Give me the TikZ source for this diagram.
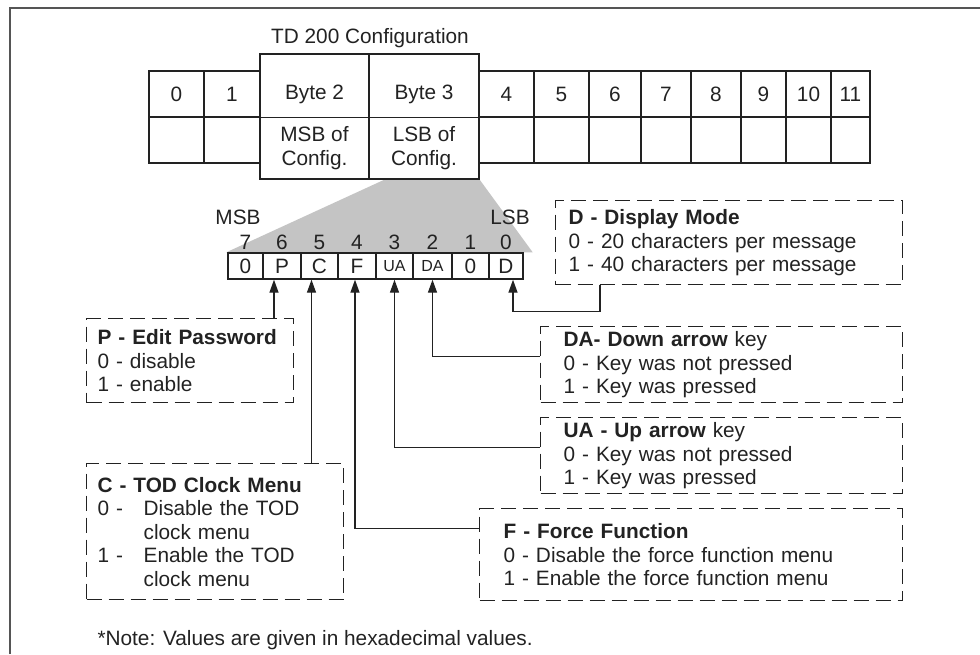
\documentclass[tikz,border=0pt]{standalone}
\usepackage{fontspec}
\setmainfont{Liberation Sans}
\usetikzlibrary{arrows.meta,backgrounds}
\definecolor{ink}{HTML}{222222}
\definecolor{wedgegray}{HTML}{C4C4C4}
\definecolor{framegray}{HTML}{555555}

\begin{document}
\begin{tikzpicture}[x=1pt,y=-1pt,
    every node/.style={text=ink, font=\fontsize{20.8}{23.5}\selectfont},
    cell/.style={draw=ink, line width=1.4pt, inner sep=0pt, minimum height=46pt},
    bit/.style={draw=ink, fill=white, line width=1.4pt, inner sep=0pt, minimum height=26pt},
    infobox/.style={draw=ink, line width=1.3pt, dash pattern=on 15pt off 7pt, align=left, inner ysep=0pt, anchor=north west},
    conn/.style={draw=ink, line width=1.4pt, -{Triangle[length=13pt,width=9pt]}}]
    \useasboundingbox (0,0) rectangle (980,654);
    \draw[framegray, line width=2pt] (10,654) -- (10,8) -- (980,8);

    \node (title) at (370,38) {TD 200 Configuration};
    \foreach \lab/\xa/\xb in {0/149/204,1/204/260,4/479/534,5/534/589,6/589/641,7/641/691,8/691/741,9/741/786,10/786/831,11/831/870}{
        \node[cell, minimum width={(\xb-\xa)*1pt}] (top\lab) at ({(\xa+\xb)/2},94) {\lab};
        \node[cell, minimum width={(\xb-\xa)*1pt}] (bot\lab) at ({(\xa+\xb)/2},140) {};
    }
    \node[cell, minimum width=109pt, minimum height=125pt] (byte2) at (314.5,116.5) {};
    \node[cell, minimum width=110pt, minimum height=125pt] (byte3) at (424,116.5) {};
    \draw[ink, line width=1.4pt] (byte2.west |- top0.south) -- (byte3.east |- top0.south);
    \node (byte2top) at (byte2 |- top0) {Byte 2};
    \node (byte3top) at (byte3 |- top0) {Byte 3};
    \node[align=center] (byte2low) at (314.5,148) {MSB of\\Config.};
    \node[align=center] (byte3low) at (424,148) {LSB of\\Config.};

    \node (msb) at (238,217) {MSB};
    \node (lsb) at (510,217) {LSB};
    \foreach \n/\lab/\xa/\xb in {7/0/228/263,6/P/263/301,5/C/301/338,4/F/338/376,3/{\fontsize{16}{18}\selectfont UA}/376/413,2/{\fontsize{16}{18}\selectfont DA}/413/452,1/0/452/489,0/D/489/523}{
        \node[bit, minimum width={(\xb-\xa)*1pt}] (bit\n) at ({(\xa+\xb)/2},266) {\lab};
        \node (num\n) at ({(\xa+\xb)/2},242) {\n};
    }
    \begin{scope}[on background layer]
        \fill[wedgegray] ([xshift=16pt]byte3.south west) -- (byte3.south east) -- ([xshift=9pt]bit0.north east) -- ([xshift=-1pt]bit7.north west) -- cycle;
    \end{scope}

    \node[infobox, minimum width=347pt, minimum height=84pt, text width=321pt, inner xsep=13pt] (dbox) at (555,200)
        {\textbf{D - Display Mode}\\0 - 20 characters per message\\1 - 40 characters per message};
    \node[infobox, minimum width=207pt, minimum height=84pt, text width=185pt, inner xsep=11pt] (pbox) at (86,318)
        {\textbf{P - Edit Password}\\0 - disable\\1 - enable};
    \node[infobox, minimum width=257pt, minimum height=136pt, text width=235pt, inner xsep=11pt] (cbox) at (86,463)
        {\textbf{C - TOD Clock Menu}\\\makebox[46pt][l]{0 -}Disable the TOD\\\hspace*{46pt}clock menu\\\makebox[46pt][l]{1 -}Enable the TOD\\\hspace*{46pt}clock menu};
    \node[infobox, minimum width=362pt, minimum height=76pt, text width=316pt, inner xsep=23pt] (dabox) at (540,326)
        {\textbf{DA- Down arrow} key\\0 - Key was not pressed\\1 - Key was pressed};
    \node[infobox, minimum width=362pt, minimum height=76pt, text width=316pt, inner xsep=23pt] (uabox) at (540,417)
        {\textbf{UA - Up arrow} key\\0 - Key was not pressed\\1 - Key was pressed};
    \node[infobox, minimum width=423pt, minimum height=92pt, text width=375pt, inner xsep=24pt] (fbox) at (479,508)
        {\textbf{F - Force Function}\\0 - Disable the force function menu\\1 - Enable the force function menu};

    \draw[conn] ([xshift=-8pt]bit6.south |- pbox.north) -- ([xshift=-8pt]bit6.south);
    \draw[conn] ([xshift=-8pt]bit5.south |- cbox.north) -- ([xshift=-8pt]bit5.south);
    \draw[conn] ([yshift=26pt]fbox.west) -| ([xshift=-2pt]bit4.south);
    \draw[conn] ([yshift=8pt]uabox.west) -| (bit3.south);
    \draw[conn] ([yshift=8pt]dabox.west) -| (bit2.south);
    \draw[conn] ([xshift=45pt]dbox.south west) -- ++(0,26) -| ([xshift=7pt]bit0.south);

    \node[anchor=west] (note) at (94,640) {*Note: Values are given in hexadecimal values.};
\end{tikzpicture}
\end{document}
